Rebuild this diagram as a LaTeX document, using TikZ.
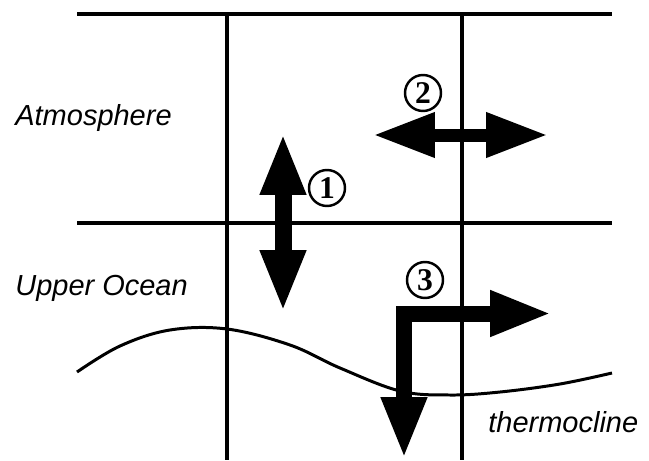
\documentclass[tikz,border=0pt]{standalone}
\usepackage{fontspec}
\setmainfont{Liberation Sans}
\newfontfamily\numfont{Liberation Serif}
\usetikzlibrary{arrows.meta}

\tikzset{
  grid line/.style={line width=2pt},
  fat arrow/.style={line width=#1, line join=miter,
    {Triangle[length=1.24cm,width=0.84cm]}-{Triangle[length=1.24cm,width=0.84cm]}},
  region label/.style={anchor=base west, inner sep=0pt,
    font=\fontsize{16.5}{20}\selectfont\itshape},
  circled/.style={circle, draw, line width=1.4pt, minimum size=0.72cm, inner sep=0pt,
    font=\fontsize{18}{20}\selectfont\numfont\bfseries},
}

\begin{document}
\begin{tikzpicture}[x=0.02cm, y=-0.02cm]
		\useasboundingbox (0,0) rectangle (649,460);
		% grid
		\draw[grid line] (77,14) -- (612,14);
		\draw[line width=2.8pt] (77,223) -- (612,223);
		\draw[grid line] (227,14) -- (227,460);
		\draw[grid line] (462,14) -- (462,460);
		% thermocline
		\draw[line width=1.7pt] plot[smooth, tension=0.6] coordinates {
			(77,372) (120,346) (170,330) (227,329) (290,345) (340,368)
			(400,391) (450,395) (500,392) (560,384) (612,373)};
		% region labels
		\node[region label] (atm) at (15,125) {Atmosphere};
		\node[region label] (ocean) at (15,295) {Upper Ocean};
		\node[region label] (thermo) at (488,432) {thermocline};
		% vertical exchange
		\coordinate (vtop) at (283,133);
		\coordinate (vbot) at (283,312);
		\draw[fat arrow=0.34cm] (vtop) -- (vbot);
		\node[circled] (one) at (327,188) {1};
		% horizontal exchange
		\coordinate (hleft) at (373,135);
		\coordinate (hright) at (548,135);
		\draw[fat arrow=0.26cm] (hleft) -- (hright);
		\node[circled] (two) at (423,93) {2};
		% ocean transport
		\coordinate (odown) at (404,459);
		\coordinate (ocorner) at (404,313.5);
		\coordinate (oright) at (552,313.5);
		\draw[fat arrow=0.32cm] (odown) -- (ocorner) -- (oright);
		\node[circled] (three) at (425,280) {3};
	\end{tikzpicture}
\end{document}
